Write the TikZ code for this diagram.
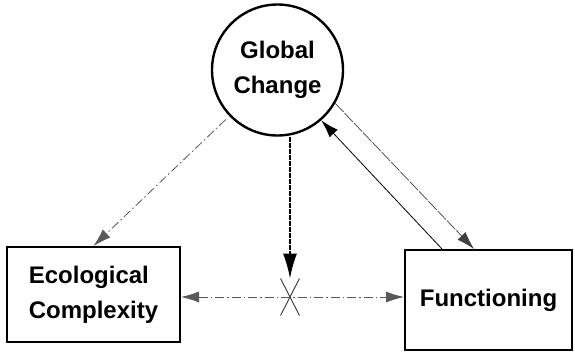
\documentclass[tikz,border=0pt]{standalone}
\usepackage{fontspec}
\setmainfont{Liberation Sans}
\usetikzlibrary{arrows.meta,shapes.misc}

\begin{document}
\begin{tikzpicture}[
		x=1pt, y=-1pt,
		>={Latex[length=18pt,width=11pt]},
		font=\fontsize{24}{35}\selectfont\bfseries,
		circ/.style = {draw, circle, line width=2.4pt, minimum size=131pt, inner sep=0pt, align=center},
		box/.style = {draw, rectangle, line width=2pt, inner sep=0pt},
		xmark/.style = {cross out, draw, black!80, line width=0.9pt, minimum width=18pt, minimum height=36pt, inner sep=0pt},
		dashdot/.style = {black!65, line width=0.8pt, dash pattern=on 9pt off 3pt on 1.5pt off 3pt},
		fine/.style = {black!75, line width=0.7pt, dash pattern=on 12pt off 1.5pt}
	]
	\useasboundingbox (0,0) rectangle (575,353);
	\node[circ] (glob) at (277.5,70) {Global\\Change};
	\node[box, minimum width=173pt, minimum height=95pt, align=left] (eco) at (93.5,294.5) {Ecological\\Complexity};
	\node[box, minimum width=167pt, minimum height=100pt] (func) at (488.5,300) {Functioning};
	\node[xmark] (cross) at (290,297) {};
	\draw[->, dashdot, shorten <=5pt] (glob) -- (eco.north);
	\draw[-{Latex[length=25pt,width=14pt]}, line width=1.6pt, dash pattern=on 5pt off 1pt] (cross |- glob.south) -- (cross.north);
	\draw[<->, dashdot] (eco.east |- cross) -- (func.west |- cross);
	\draw[->, line width=0.8pt] ([xshift=38pt]func.north west) -- (glob.311);
	\draw[->, fine] (glob.330) -- ([xshift=70pt]func.north west);
\end{tikzpicture}
\end{document}
